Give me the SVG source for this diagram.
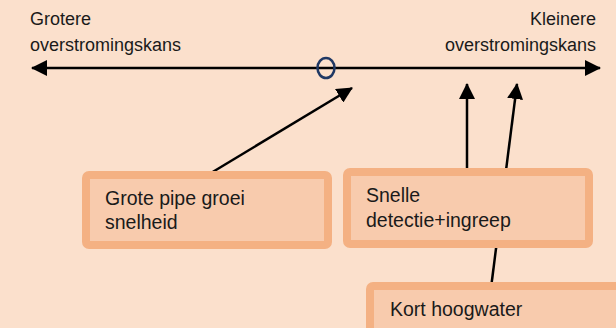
<svg xmlns="http://www.w3.org/2000/svg" width="616" height="328" viewBox="0 0 616 328">
<defs>
<style>
text{font-family:"Liberation Sans",Arial,sans-serif;font-size:18px;fill:#1a1a1a}
.bt{font-size:19.5px}
.box{fill:#F8CBAD;stroke:#F4B183;stroke-width:8}
.ln{stroke:#000;stroke-width:2.5;fill:none}
</style>
<marker id="ah" markerUnits="userSpaceOnUse" markerWidth="16" markerHeight="16" refX="15" refY="8" orient="auto-start-reverse" viewBox="0 0 16 16">
<path d="M0,0 L16,8 L0,16 z" fill="#000"/>
</marker>
</defs>
<rect width="616" height="328" fill="#FBE0CC"/>
<g id="labels">
<text x="30" y="25">Grotere</text>
<text x="30" y="51">overstromingskans</text>
<text x="596" y="25" text-anchor="end">Kleinere</text>
<text x="596" y="51" text-anchor="end">overstromingskans</text>
</g>
<g id="connectors">
<line class="ln" x1="32" y1="68" x2="600" y2="68" marker-start="url(#ah)" marker-end="url(#ah)"/>
<line class="ln" x1="206" y1="176" x2="352" y2="88" marker-end="url(#ah)"/>
<line class="ln" x1="467" y1="172" x2="467" y2="84" marker-end="url(#ah)"/>
<line class="ln" x1="491" y1="288" x2="517" y2="84" marker-end="url(#ah)"/>
</g>
<g id="marker-circle">
<ellipse cx="326" cy="68" rx="8.5" ry="10" fill="none" stroke="#1F3864" stroke-width="2.5"/>
</g>
<g id="node-grote-pipe">
<rect class="box" x="86" y="175" width="242" height="70" rx="3"/>
<text class="bt" x="105" y="205">Grote pipe groei</text>
<text class="bt" x="105" y="229">snelheid</text>
</g>
<g id="node-snelle-detectie">
<rect class="box" x="347" y="172" width="242" height="72" rx="3"/>
<text class="bt" x="366" y="202">Snelle</text>
<text class="bt" x="366" y="227">detectie+ingreep</text>
</g>
<g id="node-kort-hoogwater">
<rect class="box" x="370" y="286" width="250" height="60" rx="3"/>
<text class="bt" x="390" y="316">Kort hoogwater</text>
</g>
</svg>
